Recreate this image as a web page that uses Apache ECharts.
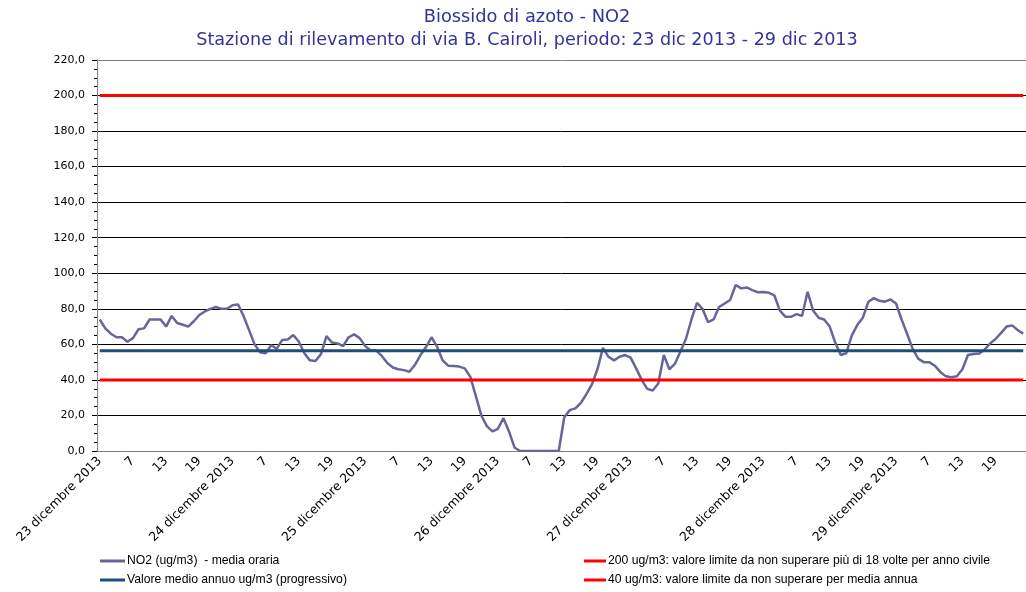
<!DOCTYPE html>
<html>
<head>
<meta charset="utf-8">
<script src="https://cdn.jsdelivr.net/npm/echarts@6/dist/echarts.min.js"></script>
<style>html,body{margin:0;padding:0;background:#fff}#c{width:1026px;height:592px}</style>
</head>
<body>
<div id="c"></div>
<script>
// ---- data ----
const days = ['23 dicembre 2013','24 dicembre 2013','25 dicembre 2013','26 dicembre 2013','27 dicembre 2013','28 dicembre 2013','29 dicembre 2013'];
const hourLabels = ['7','13','19'];
const no2 = [
 74,69,66,64,64,61.5,63.5,68.5,69,74,74,74,70,76,72,71,70,73,76.5,78.5,80,81,80,80,
 82,82.5,76,68,60,55.5,55,59.5,57.5,62.5,62.7,65.3,61.5,55,51,50.6,54.5,64.7,61,60.5,59,64,65.6,63.5,
 59,56.5,56.5,53.5,49.5,47,46,45.5,44.6,48.5,54,58.5,64,58.7,51,48,47.8,47.5,46.5,41.8,31,20,14,11,
 12.5,18.5,11,2,0,0,0,0,0,0,0,0,19,23,24,27,32,37.5,46,58,53,51,53,54,
 52.5,46.5,40,35,34,38,54,46,49,56,63,74,83.4,80,72.5,74,81,83,85,93.4,91.5,92,90.5,89.3,
 89.5,89,87.5,79,75.5,75.5,77,76,89.6,79,75,74,70,61,54,55,65,71,75,84,86,84.5,84,85.3,
 83,74,66,57.5,52,50,50,48,44.5,42,41.5,42,46,54,54.6,54.8,57,60.5,63,66.5,70,70.7,68,66
];
const annualMean = 56.4;
const limitHourly = 200;
const limitAnnual = 40;
const yTicks = [0,20,40,60,80,100,120,140,160,180,200,220];

const seriesNames = ['NO2 (ug/m3)  - media oraria','Valore medio annuo ug/m3 (progressivo)',
  '200 ug/m3: valore limite da non superare più di 18 volte per anno civile',
  '40 ug/m3: valore limite da non superare per media annua'];

// categories: 24 hourly slots per day, labels every 6 hours
const categories = [];
days.forEach(d => {
  for (let h = 0; h < 24; h++) {
    if (h === 0) categories.push(d);
    else if (h === 6) categories.push(hourLabels[0]);
    else if (h === 12) categories.push(hourLabels[1]);
    else if (h === 18) categories.push(hourLabels[2]);
    else categories.push('');
  }
});
const constLine = v => categories.map(() => v);

const FONT = 'Liberation Sans';
const chart = echarts.init(document.getElementById('c'), null, {renderer: 'canvas'});
const splitColors = yTicks.map((t, i) => i === yTicks.length - 1 ? '#808080' : '#000000');

function legendItem(name, left, top, w) {
  return {orient: 'horizontal', left: left, top: top, padding: 0, itemWidth: w, itemHeight: 3, icon: 'rect',
    data: [name], textStyle: {fontFamily: FONT, fontSize: 12.2, color: '#000', padding: [0,0,0,-3]}};
}

chart.setOption({
  animation: false,
  backgroundColor: '#ffffff',
  title: [
    {text: 'Biossido di azoto - NO2', left: 522, top: 3, textAlign: 'center',
     textStyle: {fontFamily: 'DejaVu Sans', fontSize: 17.8, fontWeight: 'normal', color: '#333399'}},
    {text: 'Stazione di rilevamento di via B. Cairoli, periodo: 23 dic 2013 - 29 dic 2013', left: 522, top: 26, textAlign: 'center',
     textStyle: {fontFamily: 'DejaVu Sans', fontSize: 17.6, fontWeight: 'normal', color: '#333399'}}
  ],
  legend: [
    legendItem(seriesNames[0], 100, 555, 25),
    legendItem(seriesNames[1], 100, 574, 25),
    legendItem(seriesNames[2], 584, 555, 22),
    legendItem(seriesNames[3], 584, 574, 22)
  ],
  grid: {left: 97, right: -10, top: 60, bottom: 141, containLabel: false},
  xAxis: {
    type: 'category', data: categories, boundaryGap: true,
    axisLine: {lineStyle: {color: '#808080', width: 1}},
    axisTick: {interval: 5, length: 5, lineStyle: {color: '#000'}},
    axisLabel: {interval: 5, rotate: 45, fontFamily: 'DejaVu Sans', fontSize: 12.5, color: '#000', margin: 8},
    splitLine: {show: false}
  },
  yAxis: {
    type: 'value', min: 0, max: 220, interval: 20,
    axisLine: {show: true, lineStyle: {color: '#808080', width: 1}},
    axisTick: {show: true, length: 5, lineStyle: {color: '#000'}},
    minorTick: {show: true, splitNumber: 4, length: 3, lineStyle: {color: '#000'}},
    axisLabel: {fontFamily: 'DejaVu Sans', fontSize: 11, color: '#000', margin: 12,
      formatter: v => v.toFixed(1).replace('.', ',')},
    splitLine: {show: true, lineStyle: {color: splitColors, width: 1}}
  },
  series: [
    {name: seriesNames[0], type: 'line', data: no2, showSymbol: false, symbol: 'none',
     lineStyle: {color: '#666699', width: 2.5}, itemStyle: {color: '#666699'}, z: 3},
    {name: seriesNames[1], type: 'line', data: constLine(annualMean), showSymbol: false, symbol: 'none',
     lineStyle: {color: '#1F4E79', width: 3}, itemStyle: {color: '#1F4E79'}, z: 4},
    {name: seriesNames[2], type: 'line', data: constLine(limitHourly), showSymbol: false, symbol: 'none',
     lineStyle: {color: '#FF0000', width: 3}, itemStyle: {color: '#FF0000'}, z: 4},
    {name: seriesNames[3], type: 'line', data: constLine(limitAnnual), showSymbol: false, symbol: 'none',
     lineStyle: {color: '#FF0000', width: 3}, itemStyle: {color: '#FF0000'}, z: 4}
  ]
});
</script>
</body>
</html>
